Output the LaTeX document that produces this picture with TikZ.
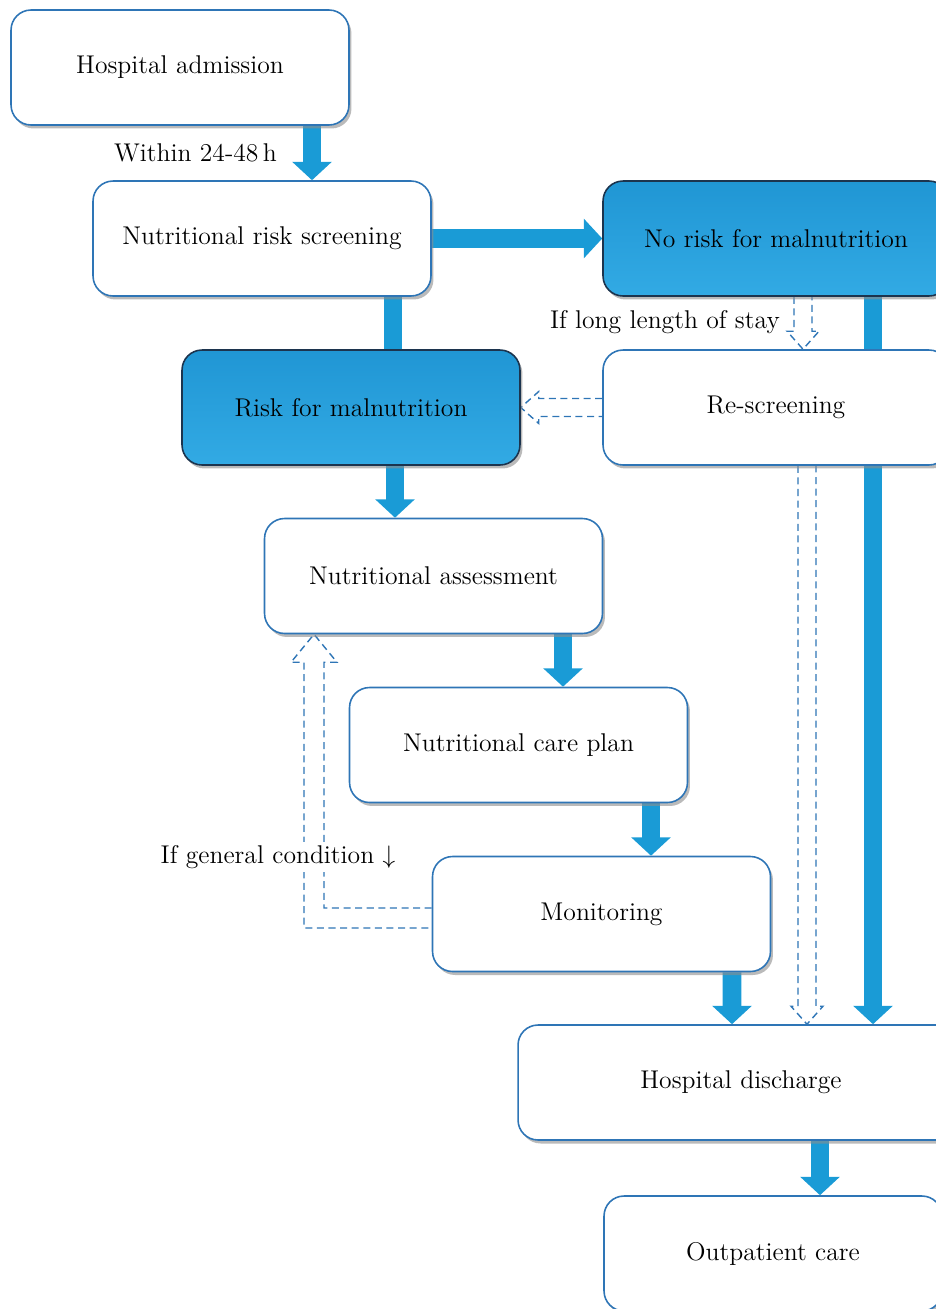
\documentclass[tikz,border=0pt]{standalone}
\usepackage{tikz}
\usetikzlibrary{calc,
                positioning,
                shadows,
                backgrounds,
                arrows.meta
                }

\definecolor{flowblue}{RGB}{26,155,214}
\definecolor{edgeblue}{RGB}{46,117,182}
\definecolor{darkedge}{RGB}{28,52,78}
\definecolor{risktop}{RGB}{32,150,212}
\definecolor{riskbot}{RGB}{50,170,228}

\tikzset{
  stepbox/.style={draw=edgeblue, line width=0.9pt, fill=white,
    rounded corners=0.4cm, minimum width=6.76cm, minimum height=2.3cm,
    drop shadow={shadow xshift=0.5mm, shadow yshift=-0.7mm, fill=black!45, opacity=0.6}},
  riskbox/.style={stepbox, draw=darkedge, top color=risktop, bottom color=riskbot},
  flow/.style={draw=flowblue, line width=10.8pt,
    -{Triangle[length=10.5pt, width=22pt]}},
  bar/.style={draw=flowblue, line width=10.8pt},
  hollow/.style={draw=edgeblue, line width=0.8pt, dash pattern=on 4pt off 2.6pt}
}

\begin{document}
\begin{tikzpicture}[x=0.02cm, y=-0.02cm, font=\fontsize{14.6}{17}\selectfont]
    \useasboundingbox (0,0) rectangle (936,1309);

    % Kaesten
    \node[stepbox] (adm) at (180,67.5) {Hospital admission};
    \node[stepbox] (nrs) at (262,238.5) {Nutritional risk screening};
    \node[riskbox, minimum width=6.92cm] (norisk) at (776,238.5) {No risk for malnutrition};
    \node[riskbox] (risk) at (351,407.5) {Risk for malnutrition};
    \node[stepbox, minimum width=6.92cm] (rescreen) at (776,407.5) {Re-screening};
    \node[stepbox] (assess) at (433.5,576) {Nutritional assessment};
    \node[stepbox] (plan) at (518.5,745) {Nutritional care plan};
    \node[stepbox] (monit) at (601.5,914) {Monitoring};
    \node[stepbox, minimum width=8.92cm] (disch) at (741,1082.5) {Hospital discharge};
    \node[stepbox] (outp) at (773,1253.5) {Outpatient care};

    % Beschriftungen
    \node[anchor=east] (within) at (283,153) {Within 24-48\,h};
    \node[anchor=east] (stay) at (786,322) {If long length of stay};
    \node[fill=white, inner sep=2pt] (cond) at (278,857) {If general condition $\downarrow$};

    \begin{scope}[on background layer]
    % volle Pfeile
    \draw[flow] ($(adm.south)+(132,0)$) -- ($(nrs.north)+(50,0)$);
    \draw[flow] (nrs.east) -- (norisk.west);
    \draw[bar] ($(nrs.south)+(131,0)$) -- ($(risk.north)+(42,0)$);
    \draw[flow] ($(risk.south)+(44,0)$) -- ($(assess.north)+(-38.5,0)$);
    \draw[flow] ($(assess.south)+(129.5,0)$) -- ($(plan.north)+(44.5,0)$);
    \draw[flow] ($(plan.south)+(132.5,0)$) -- ($(monit.north)+(49.5,0)$);
    \draw[flow] ($(monit.south)+(130.5,0)$) -- ($(disch.north)+(-9,0)$);
    \draw[flow] ($(norisk.south)+(97,0)$) -- ($(disch.north)+(132,0)$);
    \draw[flow] ($(disch.south)+(79,0)$) -- ($(outp.north)+(47,0)$);

    % gestrichelte Hohlpfeile
    \coordinate (ls) at ($(norisk.south)+(27,0)$);
    \coordinate (lt) at ($(rescreen.north)+(27,0)$);
    \draw[hollow] ($(ls)+(-9,0)$) -- ($(lt)+(-9,-18)$) -- ($(lt)+(-16,-18)$) -- (lt)
        -- ($(lt)+(16,-18)$) -- ($(lt)+(9,-18)$) -- ($(ls)+(9,0)$);

    \draw[hollow] ($(rescreen.west)+(0,-9)$) -- ($(risk.east)+(18,-9)$) -- ($(risk.east)+(18,-16)$)
        -- (risk.east) -- ($(risk.east)+(18,16)$) -- ($(risk.east)+(18,9)$) -- ($(rescreen.west)+(0,9)$);

    \coordinate (rs) at ($(rescreen.south)+(31,0)$);
    \coordinate (rt) at (rs |- disch.north);
    \draw[hollow] ($(rs)+(-9,0)$) -- ($(rt)+(-9,-18)$) -- ($(rt)+(-16,-18)$) -- (rt)
        -- ($(rt)+(16,-18)$) -- ($(rt)+(9,-18)$) -- ($(rs)+(9,0)$);

    % Rueckweg zur Erhebung
    \coordinate (gc) at ($(assess.south)+(-119.5,0)$);
    \coordinate (gci) at ($(gc)+(10,28)$);
    \coordinate (gco) at ($(gc)+(-10,28)$);
    \coordinate (gcin) at ($(monit.west)+(0,-6)$);
    \coordinate (gcout) at ($(monit.west)+(0,14)$);
    \draw[hollow] (gcin) -- (gcin -| gci) -- (gci) -- ($(gci)+(13,0)$) -- (gc)
        -- ($(gco)+(-13,0)$) -- (gco) -- (gco |- gcout) -- (gcout);
    \end{scope}

\end{tikzpicture}
\end{document}
